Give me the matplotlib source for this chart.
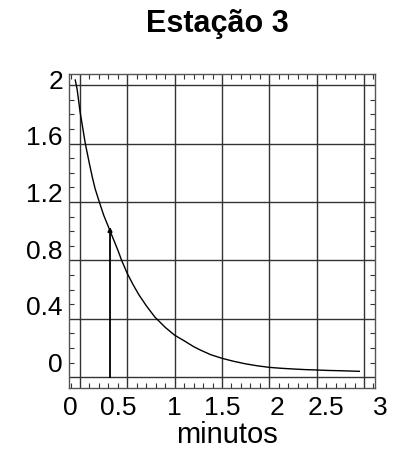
import matplotlib
matplotlib.use("Agg")
import matplotlib.pyplot as plt
from matplotlib.ticker import MultipleLocator

plt.rcParams['font.family'] = ['Liberation Sans', 'DejaVu Sans']

# Curve values (grid units: x minutes, y value)
curve_x = [-0.05, -0.03, 0.0, 0.056, 0.10, 0.13, 0.16, 0.204, 0.25, 0.30,
           0.35, 0.40, 0.44, 0.50, 0.56, 0.62, 0.70, 0.79, 0.90, 1.00,
           1.10, 1.20, 1.27, 1.38, 1.50, 1.62, 1.75, 1.87, 2.00, 2.12,
           2.25, 2.37, 2.50, 2.62, 2.75, 2.85, 2.95]
curve_y = [2.035, 1.97, 1.82, 1.6, 1.46, 1.37, 1.29, 1.2, 1.11, 1.03,
           0.95, 0.87, 0.80, 0.71, 0.635, 0.567, 0.49, 0.413, 0.342, 0.288,
           0.25, 0.21, 0.187, 0.155, 0.13, 0.11, 0.092, 0.079, 0.068, 0.062,
           0.057, 0.053, 0.050, 0.047, 0.045, 0.043, 0.041]

# Vertical arrow
arrow_x = 0.317
arrow_y0 = 0.0
arrow_y1 = 1.03

# Grid lines
grid_x = [0, 0.5, 1.0, 1.5, 2.0, 2.5, 3.0]
grid_y = [0, 0.4, 0.8, 1.2, 1.6, 2.0]

# Tick labels (as drawn, offset from grid)
xtick_labels = ['0', '0.5', '1', '1.5', '2', '2.5', '3']
xtick_pos = [-0.106, 0.401, 0.993, 1.500, 2.081, 2.599, 3.169]
ytick_labels = ['2', '1.6', '1.2', '0.8', '0.4', '0']
ytick_pos = [2.023, 1.638, 1.248, 0.860, 0.472, 0.084]

fig = plt.figure(figsize=(4.0, 4.51), dpi=100)
ax = fig.add_axes([68.5/400, 1-388/451, (375-68.5)/400, (388-74)/451])
ax.set_xlim(-0.1215, 3.116)
ax.set_ylim(-0.0732, 2.076)

for gx in grid_x:
    ax.axvline(gx, color='#333333', lw=1.0, zorder=1)
for gy in grid_y:
    ax.axhline(gy, color='#333333', lw=1.0, zorder=1)

ax.plot(curve_x, curve_y, color='black', lw=1.0, zorder=3)
ax.annotate('', xy=(arrow_x, arrow_y1), xytext=(arrow_x, arrow_y0),
            arrowprops=dict(arrowstyle='-|>', color='black', lw=1.3,
                            mutation_scale=6, shrinkA=0, shrinkB=0),
            zorder=4)

ax.xaxis.set_major_locator(MultipleLocator(0.5))
ax.xaxis.set_minor_locator(MultipleLocator(0.1))
ax.yaxis.set_major_locator(MultipleLocator(0.4))
ax.yaxis.set_minor_locator(MultipleLocator(0.1))
ax.tick_params(which='both', direction='in', top=True, right=True,
               labelbottom=False, labelleft=False, color='#333333')
ax.tick_params(which='major', length=0)
ax.tick_params(which='minor', length=3.5, width=0.8)
for s in ax.spines.values():
    s.set_color('#555555')
    s.set_linewidth(1.0)

for lab, xp in zip(xtick_labels, xtick_pos):
    ax.text(xp, -0.21, lab, ha='center', va='center', fontsize=19,
            clip_on=False)
for lab, yp in zip(ytick_labels, ytick_pos):
    ax.text(-0.18, yp, lab, ha='right', va='center', fontsize=19,
            clip_on=False)

fig.text(227/400, 1-435/451, 'minutos', ha='center', va='center', fontsize=21)
fig.text(217/400, 1-24/451, 'Estação 3', ha='center', va='center',
         fontsize=22, fontweight='bold')

fig.savefig('out.png', dpi=100)
